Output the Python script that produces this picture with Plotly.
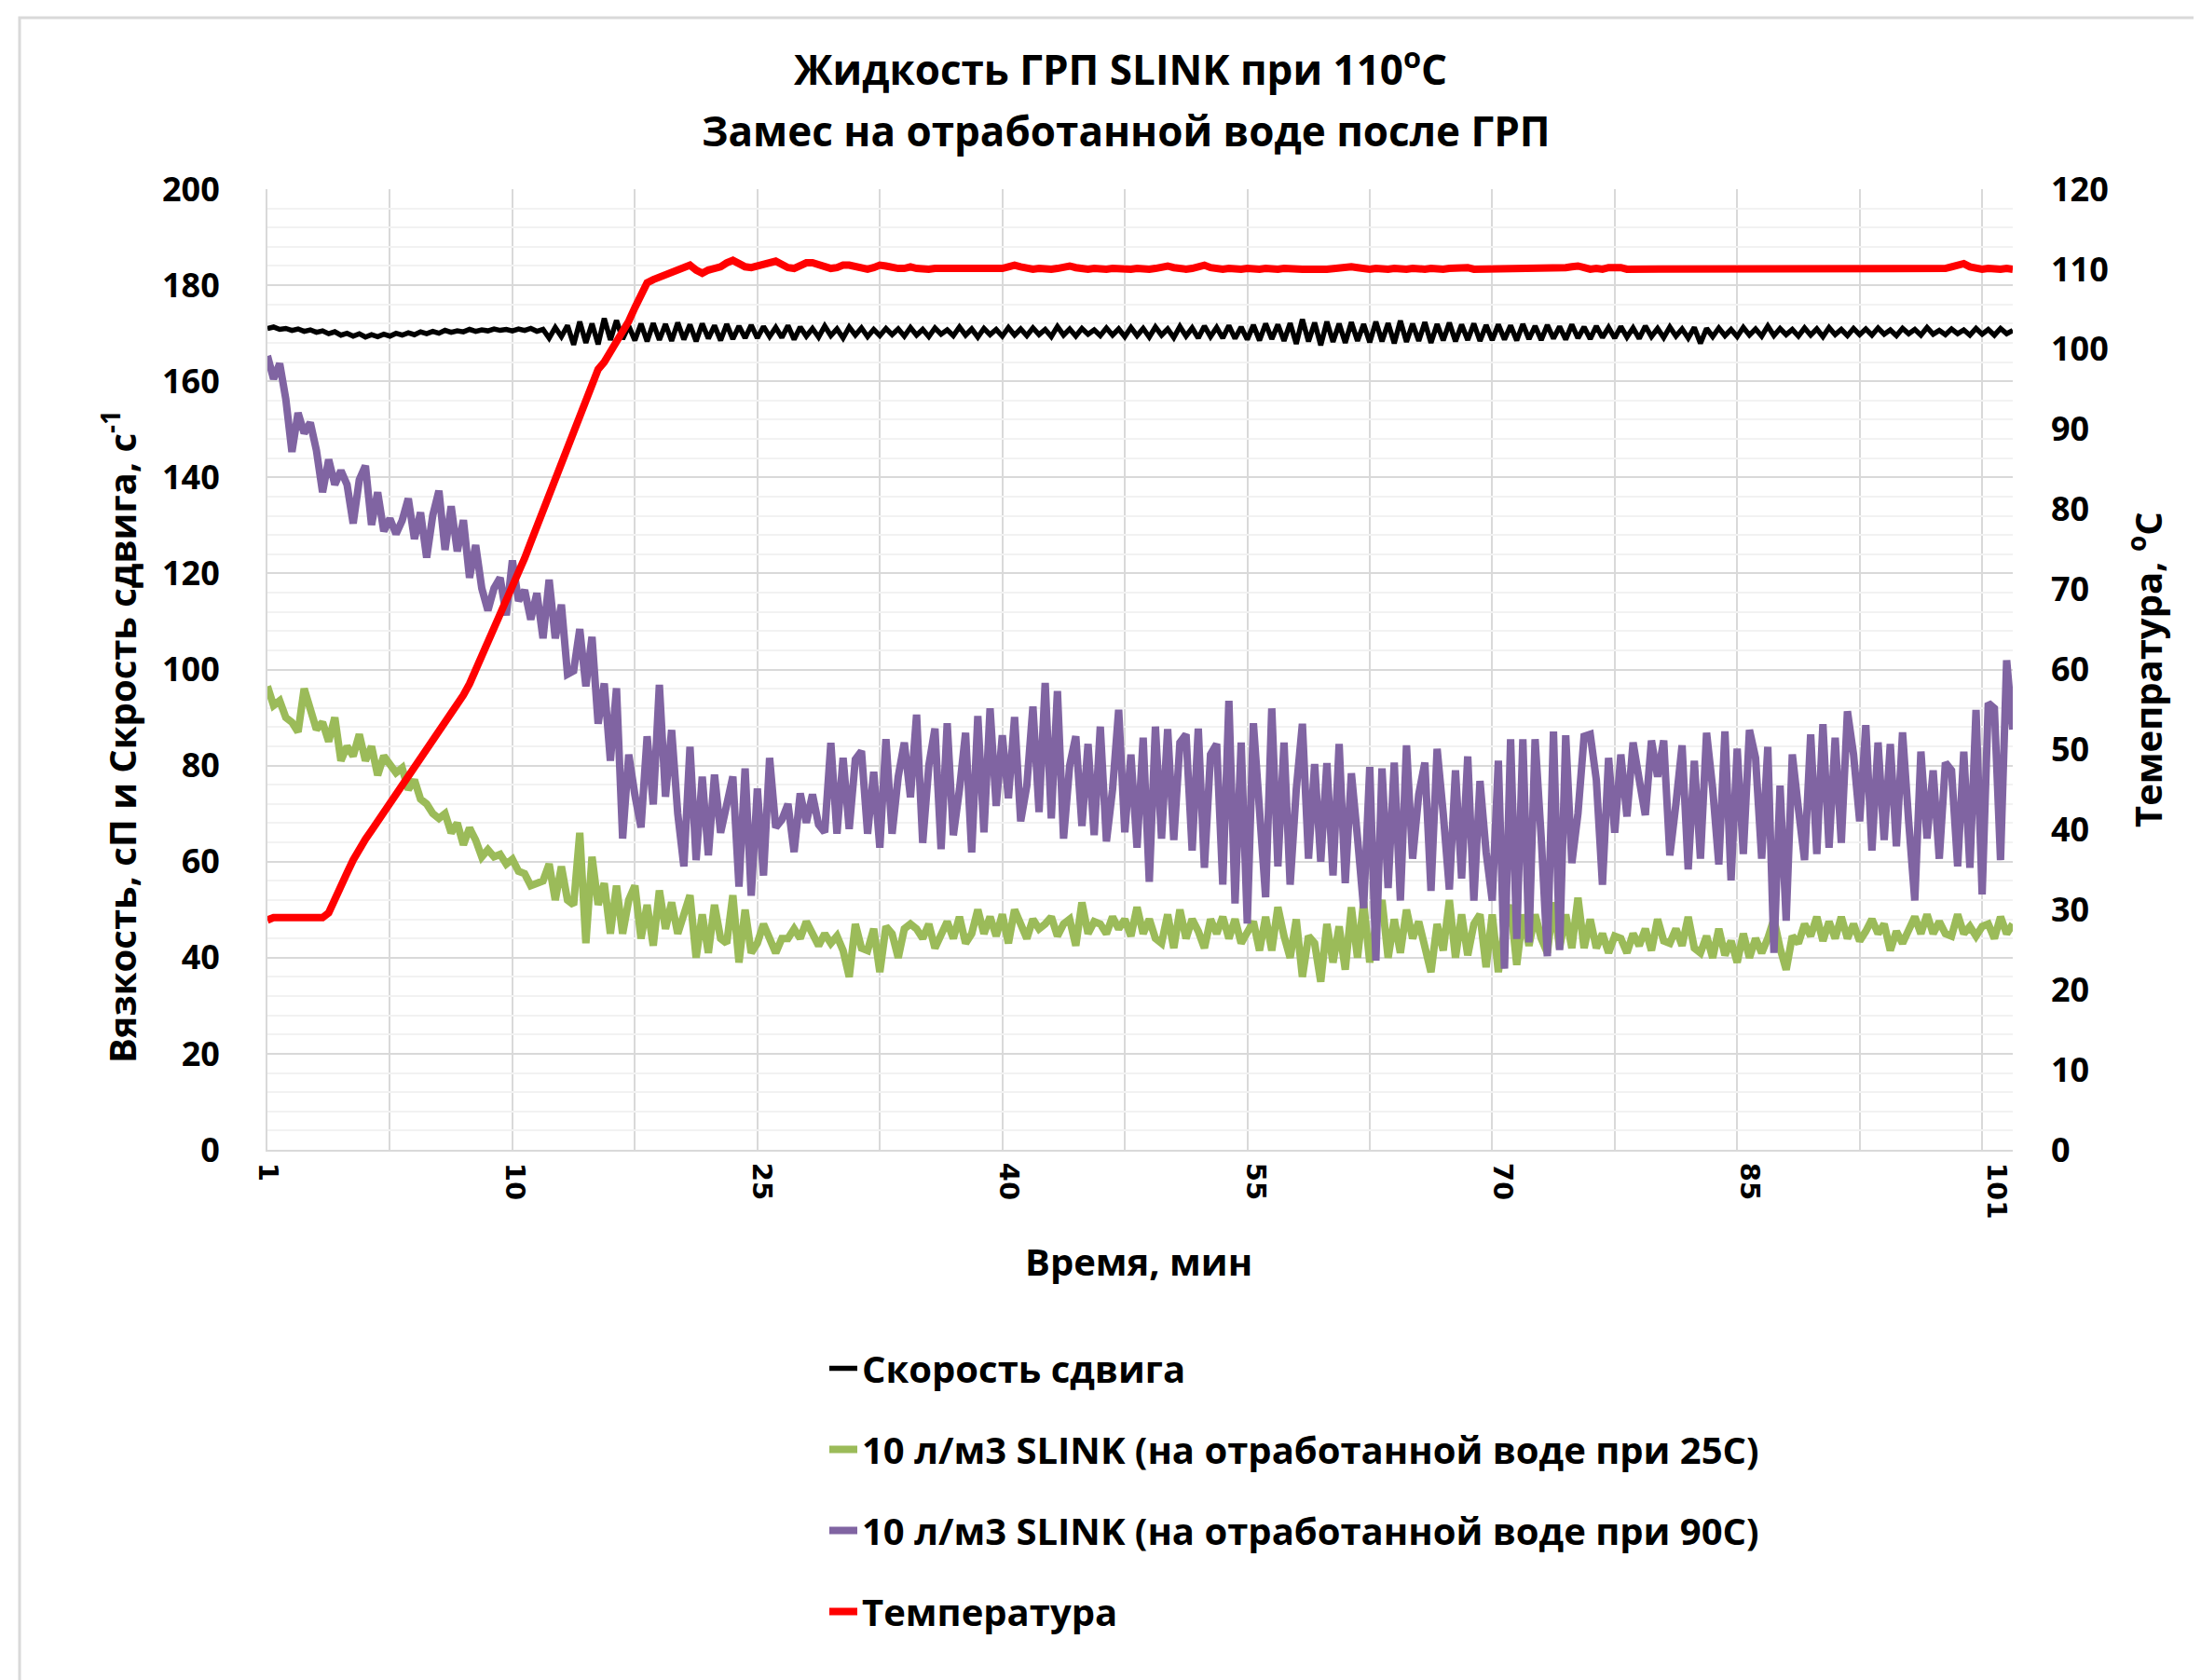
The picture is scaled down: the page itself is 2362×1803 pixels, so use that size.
#%%
import plotly.graph_objects as go

#%%
# x axis is the reading number, the category labels (minutes) sit on every 40th reading
tick_labels = ['1', '10', '25', '40', '55', '70', '85', '101']

# shear rate, 1/s (left axis)
shear_rate = [
    171.0, 171.3, 170.8, 171.0, 170.6, 170.9, 170.4, 170.7, 170.2, 170.5,
    169.9, 170.3, 169.6, 170.0, 169.4, 169.9, 169.2, 169.7, 169.3, 169.8,
    169.4, 170.0, 169.6, 170.1, 169.7, 170.3, 169.9, 170.4, 170.0, 170.6,
    170.2, 170.5, 170.3, 170.8, 170.4, 170.7, 170.5, 170.9, 170.6, 170.8,
    170.5, 170.9, 170.6, 171.0, 170.4, 170.8, 169.0, 171.2, 169.3, 171.6,
    167.6, 172.4, 168.0, 172.0, 167.7, 173.1, 168.6, 172.7, 168.8, 171.5,
    168.5, 172.0, 168.3, 172.1, 168.6, 171.9, 168.4, 172.2, 168.7, 171.8,
    168.3, 172.0, 168.9, 171.6, 168.5, 171.9, 168.8, 171.5, 169.0, 171.7,
    169.0, 171.4, 169.3, 171.2, 169.1, 171.6, 168.7, 171.3, 169.4, 171.0,
    169.2, 171.5, 169.5, 170.9, 169.0, 171.3, 169.6, 171.1, 169.3, 170.8,
    169.5, 171.0, 169.7, 170.9, 169.4, 171.2, 169.6, 170.8, 169.3, 171.1,
    169.8, 170.7, 169.5, 171.3, 169.6, 170.9, 169.2, 171.0, 169.7, 170.8,
    169.4, 171.2, 169.6, 170.9, 169.5, 171.1, 169.7, 170.8, 169.3, 171.4,
    169.6, 170.9, 169.4, 171.0, 169.8, 170.7, 169.5, 171.1, 169.6, 170.9,
    169.3, 171.2, 169.5, 171.0, 169.2, 171.3, 169.6, 170.9, 169.1, 171.4,
    169.4, 171.1, 169.0, 171.5, 169.3, 171.2, 169.0, 171.6, 168.9, 171.3,
    168.7, 171.7, 168.5, 172.0, 168.8, 171.8, 168.4, 172.1, 167.8, 172.9,
    168.3, 172.2, 167.5, 172.4, 168.2, 172.0, 168.0, 172.3, 168.4, 171.9,
    168.1, 172.4, 168.3, 172.1, 167.9, 172.6, 168.2, 172.0, 168.4, 172.3,
    168.0, 171.9, 168.5, 172.2, 168.3, 171.8, 168.6, 172.0, 168.4, 171.7,
    168.6, 171.8, 168.7, 171.6, 168.5, 171.9, 168.8, 171.5, 168.6, 171.7,
    168.9, 171.4, 168.7, 171.8, 169.0, 171.3, 168.8, 171.5, 169.1, 171.2,
    169.0, 171.4, 169.2, 171.1, 168.9, 171.5, 169.3, 171.0, 169.1, 171.3,
    169.4, 170.9, 169.0, 171.2, 167.9, 171.0, 169.3, 171.1, 169.5, 170.8,
    169.3, 171.2, 169.6, 170.9, 169.4, 171.5, 169.5, 171.0, 169.7, 170.8,
    169.4, 171.1, 169.6, 170.9, 169.3, 171.2, 169.7, 170.8, 169.5, 171.0,
    169.7, 170.9, 169.6, 171.1, 169.8, 170.7, 169.5, 171.0, 169.9, 170.8,
    169.6, 171.2, 169.8, 170.6, 169.7, 170.9, 169.9, 170.7, 169.6, 171.0,
    169.8, 170.8, 169.6, 171.0, 169.9, 170.6,
]

# viscosity, cP - 10 l/m3 SLINK mixed at 25C
slink_25 = [
    96.5, 92.5, 93.5, 90, 89, 87, 96, 91, 87.5, 89,
    85, 90, 81, 84, 82, 86.5, 81, 84, 78, 82,
    80, 78.5, 79.5, 75, 77, 73, 72, 70, 69, 70,
    66, 68, 63.5, 67, 64.5, 61, 62.5, 61, 61.5, 59.5,
    60.5, 58, 57.5, 55, 55.5, 56, 59.5, 52, 59, 52,
    51, 66, 43, 61, 51, 55.5, 45, 55, 45, 52,
    55, 44, 51, 42.5, 54, 46, 51.5, 45, 49, 53,
    40, 49, 41, 51, 44, 43, 53, 39, 50, 41,
    43, 47, 44, 41, 44, 44, 46, 44, 47.5, 45,
    42.5, 45, 43, 44.5, 41.5, 36, 47, 42, 41.5, 46,
    37, 46.5, 45, 40, 46, 47, 46, 44, 47, 42,
    45, 47.5, 44, 48.5, 43, 45, 50, 45, 48.5, 44.5,
    49, 43, 50, 47, 44, 48, 46, 47, 48.5, 44.5,
    47, 48, 42.5, 51.5, 45, 47.5, 47, 45, 48.5, 46,
    48, 44.5, 50.5, 45, 48, 44, 43, 49, 42, 50,
    44, 48, 45.5, 42, 48, 45, 48.5, 44, 48, 43,
    45, 47.5, 41.5, 48.5, 41.5, 50.5, 44.5, 40, 48, 36,
    44.5, 43, 35, 47, 39, 46.5, 37.5, 50.5, 40, 51.5,
    39, 47, 52, 40, 48, 41, 50, 44, 47.5, 42,
    37, 47, 41.5, 52, 40, 49, 40.5, 47, 49, 38,
    49, 37, 46, 51, 38.5, 49, 42.5, 49, 44, 41,
    51.5, 42, 49, 42, 52.5, 42, 48, 42, 45, 41,
    44.5, 44, 41, 45, 42.5, 46, 41.5, 48, 43.5, 43,
    46, 42.5, 48.5, 42, 41, 44.5, 40, 46, 40.5, 43.5,
    39, 45, 40, 44, 41, 44, 48, 42, 37.5, 44.5,
    43, 47, 44.5, 48.5, 43.5, 47.5, 44, 48.5, 44, 47,
    43.5, 45.5, 48, 45, 47, 41.5, 45.5, 43, 46, 48.5,
    45, 49, 45, 47.5, 45, 44.5, 49, 45, 46.5, 44.5,
    46.5, 47, 44, 48.5, 45, 47,
]

# viscosity, cP - 10 l/m3 SLINK mixed at 90C
slink_90 = [
    165.3, 160.5, 163.7, 156.3, 145.3, 153.4, 149.2, 151.4, 145.6, 136.9,
    143.7, 138.5, 141.4, 138.5, 130.4, 139.5, 142.4, 130.1, 136.9, 128.8,
    131.4, 128.2, 131.0, 135.6, 127.2, 132.7, 123.3, 132.1, 137.2, 124.9,
    134.0, 124.6, 131.1, 119.1, 125.9, 116.9, 112.3, 116.9, 119.1, 111.3,
    122.7, 114.3, 116.5, 110.4, 115.9, 106.5, 118.7, 106.5, 113.5, 99.0,
    99.7, 108.4, 96.5, 106.8, 88.7, 97.1, 81.0, 96.1, 64.8, 82.3,
    73.9, 67.1, 86.1, 71.9, 96.8, 73.5, 87.4, 70.0, 59.0, 83.9,
    60.3, 77.7, 61.3, 78.1, 66.0, 71.3, 77.7, 54.8, 79.4, 52.9,
    75.2, 57.1, 81.6, 67.1, 68.7, 72.0, 62.0, 74.2, 68.1, 74.0,
    67.7, 66.1, 84.7, 65.8, 81.6, 66.8, 81.3, 83.0, 65.8, 78.7,
    62.9, 85.5, 65.8, 77.7, 84.8, 73.4, 90.6, 63.9, 80.0, 87.7,
    62.6, 88.8, 65.5, 75.0, 86.8, 61.9, 90.3, 66.1, 91.9, 71.6,
    86.3, 73.2, 90.1, 68.4, 75.8, 92.3, 70.3, 97.2, 69.0, 95.5,
    64.8, 80.0, 86.1, 67.4, 84.5, 65.5, 88.1, 64.2, 75.0, 91.6,
    66.1, 82.3, 62.9, 85.8, 55.8, 88.1, 64.8, 87.6, 64.5, 84.8,
    86.5, 62.3, 87.7, 58.7, 82.3, 84.5, 55.2, 93.5, 51.3, 84.8,
    47.1, 88.8, 70.0, 52.6, 91.9, 59.0, 84.8, 55.2, 75.0, 88.7,
    60.6, 80.3, 60.0, 80.5, 57.1, 84.5, 55.5, 78.4, 65.0, 50.3,
    79.7, 39.4, 79.4, 54.5, 80.6, 51.9, 84.2, 60.6, 74.0, 80.6,
    53.9, 83.5, 70.0, 54.2, 79.0, 56.5, 81.9, 51.9, 76.8, 62.0,
    51.9, 81.0, 37.7, 85.5, 43.9, 85.5, 43.2, 85.5, 65.0, 40.3,
    87.1, 41.6, 86.3, 59.7, 70.0, 86.1, 86.5, 77.0, 55.2, 81.6,
    66.0, 82.3, 69.4, 84.8, 77.1, 69.7, 85.2, 77.7, 85.2, 61.3,
    72.0, 84.2, 58.4, 81.0, 60.6, 86.8, 75.2, 59.4, 87.1, 56.1,
    83.5, 61.6, 87.4, 81.6, 60.6, 83.9, 41.0, 75.8, 47.7, 82.3,
    71.0, 60.3, 86.5, 61.6, 88.6, 62.9, 85.8, 63.9, 91.3, 82.3,
    68.4, 88.4, 62.3, 84.8, 64.5, 84.5, 63.2, 86.9, 68.4, 51.9,
    82.9, 64.8, 79.0, 60.6, 80.6, 79.0, 59.0, 82.9, 58.7, 91.6,
    53.2, 93.0, 91.9, 60.3, 101.9, 87.5,
]

# temperature, C (right axis)
temperature = [
    28.7, 29.0, 29.0, 29.0, 29.0, 29.0, 29.0, 29.0, 29.0, 29.0,
    29.6, 31.4, 33.0, 34.6, 36.2, 37.7, 38.8, 39.9, 41.0, 42.1,
    43.2, 44.4, 45.5, 46.6, 47.7, 48.9, 50.1, 51.3, 52.4, 53.4,
    54.5, 55.6, 56.8, 58.2, 59.9, 61.7, 63.3, 64.9, 66.6, 68.3,
    70.1, 72.0, 73.9, 75.9, 77.9, 80.0, 82.0, 84.0, 86.0, 87.9,
    89.8, 91.7, 93.6, 95.6, 97.5, 98.4, 99.6, 100.9, 102.2, 103.5,
    105.2, 107.0, 108.3, 108.7, 109.0, 109.3, 109.6, 109.9, 110.3, 110.5,
    109.9, 109.5, 109.9, 110.1, 110.3, 110.8, 111.1, 110.7, 110.3, 110.2,
    110.4, 110.7, 111.0, 111.0, 110.6, 110.2, 110.1, 110.4, 110.8, 110.8,
    110.5, 110.2, 110.1, 110.2, 110.5, 110.5, 110.3, 110.1, 110.0, 110.2,
    110.5, 110.4, 110.2, 110.1, 110.1, 110.3, 110.1, 110.0, 110.0, 110.1,
    110.1, 110.0, 110.0, 110.1, 110.0, 110.0, 110.1, 110.1, 110.0, 110.0,
    110.1, 110.3, 110.5, 110.3, 110.1, 110.0, 110.1, 110.0, 110.0, 110.1,
    110.3, 110.4, 110.2, 110.0, 110.0, 110.1, 110.0, 110.0, 110.1, 110.0,
    110.0, 110.0, 110.1, 110.0, 110.0, 110.1, 110.2, 110.4, 110.2, 110.0,
    110.0, 110.1, 110.3, 110.5, 110.2, 110.0, 110.0, 110.1, 110.0, 110.0,
    110.1, 110.0, 110.0, 110.1, 110.0, 110.0, 110.1, 110.0, 110.1, 110.0,
    110.0, 110.1, 110.0, 110.0, 110.1, 110.2, 110.3, 110.3, 110.2, 110.0,
    110.0, 110.1, 110.0, 110.0, 110.1, 110.0, 110.0, 110.1, 110.0, 110.0,
    110.1, 110.0, 110.0, 110.1, 110.2, 110.3, 110.2, 110.0, 110.0, 110.1,
    110.0, 110.0, 110.1, 110.0, 110.0, 110.1, 110.0, 110.0, 110.1, 110.0,
    110.0, 110.1, 110.2, 110.3, 110.4, 110.2, 110.0, 110.1, 110.0, 110.2,
    110.3, 110.2, 110.0, 110.0, 110.1, 110.0, 110.0, 110.1, 110.0, 110.0,
    110.1, 110.0, 110.0, 110.1, 110.0, 110.0, 110.0, 110.1, 110.0, 110.0,
    110.1, 110.0, 110.0, 110.0, 110.1, 110.0, 110.0, 110.1, 110.0, 110.0,
    110.0, 110.1, 110.0, 110.0, 110.0, 110.1, 110.0, 110.0, 110.0, 110.1,
    110.0, 110.0, 110.0, 110.1, 110.0, 110.0, 110.0, 110.0, 110.1, 110.0,
    110.0, 110.0, 110.0, 110.1, 110.1, 110.3, 110.6, 110.7, 110.3, 110.1,
    110.0, 110.1, 110.0, 110.0, 110.1, 110.0,
]

series_names = [
    'Скорость сдвига',
    '10 л/м3 SLINK (на отработанной воде при 25С)',
    '10 л/м3 SLINK (на отработанной воде при 90С)',
    'Температура',
]

#%%
x = list(range(len(shear_rate)))
# Excel puts the rotated labels a touch right of the gridlines, more so further right
tick_pos = [i * 40 + i * 0.33 for i in range(len(tick_labels))]

FONT = 'Open Sans'
GRID = '#d9d9d9'

# window size and plot area in page pixels; the page body adds 8px on the left/top
W, H = 2362, 1803
L, R, T, B = 287, 2160, 203, 1234
PAGE = 8


def px_x(v):
    return (v - L) / (R - L)


def px_y(v):
    return (B - v) / (B - T)


fig = go.Figure()
fig.add_trace(go.Scatter(x=x, y=shear_rate, name=series_names[0], mode='lines',
                         line=dict(color='#000000', width=5.5), legendgroup='a'))
fig.add_trace(go.Scatter(x=x, y=slink_25, name=series_names[1], mode='lines',
                         line=dict(color='#9BBB59', width=8), legendgroup='b'))
fig.add_trace(go.Scatter(x=x, y=slink_90, name=series_names[2], mode='lines',
                         line=dict(color='#8064A2', width=8), legendgroup='c'))
fig.add_trace(go.Scatter(x=x, y=temperature, name=series_names[3], mode='lines',
                         line=dict(color='#FF0000', width=8), legendgroup='d',
                         yaxis='y2'))

tick_font = dict(family=FONT, size=36, color='black', weight='bold')

fig.update_layout(
    width=W, height=H,
    margin=dict(l=L - PAGE, r=W - R + PAGE, t=T - PAGE, b=H - B + PAGE, pad=0),
    paper_bgcolor='white', plot_bgcolor='white',
    showlegend=True,
    legend=dict(x=px_x(885), y=px_y(1436), xanchor='left', yanchor='top',
                font=dict(family=FONT, size=40, color='black', weight='bold'),
                tracegroupgap=32, bgcolor='rgba(0,0,0,0)'),
    xaxis=dict(range=[0, len(x) - 1], tickmode='array', tickvals=tick_pos, ticktext=tick_labels,
               tickangle=90, ticks='', ticklabelstandoff=6,
               tickfont=dict(family='DejaVu Sans', size=29, color='black', weight='bold'),
               showgrid=False,
               minor=dict(tickmode='linear', tick0=0, dtick=20, showgrid=True,
                          gridcolor=GRID, gridwidth=2),
               showline=True, linecolor=GRID, linewidth=2, zeroline=False),
    yaxis=dict(range=[0, 200], tick0=0, dtick=20, ticks='', ticklabelstandoff=42,
               tickfont=tick_font, showgrid=True, gridcolor=GRID, gridwidth=2,
               minor=dict(tick0=0, dtick=4, showgrid=True, gridcolor='#f2f2f2', gridwidth=2),
               showline=True, linecolor=GRID, linewidth=2, zeroline=False),
    yaxis2=dict(range=[0, 120], tick0=0, dtick=10, ticks='', ticklabelstandoff=40,
                tickfont=tick_font, overlaying='y', side='right',
                showgrid=False, zeroline=False, showline=False),
)

#%%
# titles as annotations so they can sit where Excel put them
title_font = dict(family=FONT, size=44, color='black', weight='bold')
axis_font = dict(family=FONT, size=40, color='black', weight='bold')


def label(text, cx, cy, font, angle=0):
    fig.add_annotation(text=text, x=px_x(cx), y=px_y(cy), xref='paper', yref='paper',
                       xanchor='center', yanchor='middle', showarrow=False,
                       textangle=angle, font=font)


label('Жидкость ГРП SLINK при 110<sup>o</sup>C', 1202, 72, title_font)
label('Замес на отработанной воде после ГРП', 1208, 140, title_font)
label('Время, мин', 1222, 1353, axis_font)
label('Вязкость, сП и Скрость сдвига, с<sup>-1</sup>', 128, 791, axis_font, -90)
label('Темепратура, <sup>o</sup>C', 2302, 719, axis_font, -90)

# light chart-area border (only the left and top edges are inside the picture)
fig.add_shape(type='rect', xref='paper', yref='paper',
              x0=px_x(21), x1=px_x(W + 40), y0=px_y(H + 40), y1=px_y(19),
              line=dict(color='#d9d9d9', width=3), fillcolor='rgba(0,0,0,0)', layer='below')

fig.write_html("out.html")
